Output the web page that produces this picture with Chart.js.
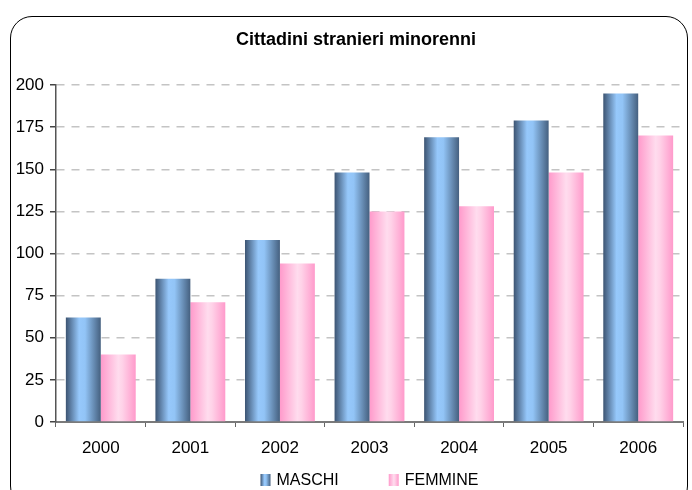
<!DOCTYPE html>
<html>
<head>
<meta charset="utf-8">
<script src="https://cdn.jsdelivr.net/npm/chart.js@4.4.1/dist/chart.umd.min.js"></script>
<style>
  html, body { margin: 0; padding: 0; background: #fff; }
  #wrap { position: relative; width: 692px; height: 490px; overflow: hidden; }
  #frame {
    position: absolute; left: 10px; top: 16px; width: 676px; height: 490px;
    border: 1px solid #000; border-radius: 22px; pointer-events: none;
  }
  canvas { position: absolute; left: 0; top: 0; }
</style>
</head>
<body>
<div id="wrap">
  <div id="frame"></div>
  <canvas id="c" width="692" height="490"></canvas>
</div>
<script>
// ---- data ----
const TITLE = "Cittadini stranieri minorenni";
const YEARS = ["2000", "2001", "2002", "2003", "2004", "2005", "2006"];
const MASCHI = [62, 85, 108, 148, 169, 179, 195];
const FEMMINE = [40, 71, 94, 125, 128, 148, 170];
const Y_TICKS = [0, 25, 50, 75, 100, 125, 150, 175, 200];

const FONT = "'Liberation Sans', Arial, sans-serif";

// colour stops for the cylinder look
const BLUE_STOPS = [[0, "#3c5472"], [0.38, "#96c8fb"], [0.55, "#92c4f6"], [1, "#45607f"]];
const PINK_STOPS = [[0, "#ff9acb"], [0.5, "#ffdcee"], [0.62, "#ffd2e8"], [1, "#ff9acb"]];

function makeGrad(ctx, x0, x1, stops) {
  const g = ctx.createLinearGradient(x0, 0, x1, 0);
  stops.forEach(s => g.addColorStop(s[0], s[1]));
  return g;
}

// per-bar horizontal gradients (options are shared between bars, so copy them)
const barGradients = {
  id: "barGradients",
  beforeDatasetsDraw(chart) {
    const ctx = chart.ctx;
    chart.data.datasets.forEach((ds, i) => {
      chart.getDatasetMeta(i).data.forEach(bar => {
        const x0 = bar.x - bar.width / 2, x1 = bar.x + bar.width / 2;
        bar.options = Object.assign({}, bar.options, { backgroundColor: makeGrad(ctx, x0, x1, ds._stops) });
      });
    });
  }
};

// the title sits a bit right of the canvas centre in the original
const titleShift = {
  id: "titleShift",
  afterLayout(chart) {
    if (!chart.titleBlock) return;
    chart.titleBlock.left += 14.5;
    chart.titleBlock.right += 14.5;
  }
};

// legend under the axis, centred on the plot area, wide gap between items
const LEGEND_Y = 480;
const LEGEND_GAP = 50;
const bottomLegend = {
  id: "bottomLegend",
  afterDraw(chart) {
    const ctx = chart.ctx;
    const area = chart.chartArea;
    ctx.save();
    ctx.font = "16px " + FONT;
    ctx.textBaseline = "middle";
    const boxW = 10, boxH = 12, txtGap = 6;
    const items = chart.data.datasets.map(ds => ({ ds, w: boxW + txtGap + ctx.measureText(ds.label).width }));
    const total = items.reduce((a, it) => a + it.w, 0) + LEGEND_GAP * (items.length - 1);
    let x = (area.left + area.right - total) / 2;
    items.forEach(it => {
      ctx.fillStyle = makeGrad(ctx, x, x + boxW, it.ds._stops);
      ctx.fillRect(x, LEGEND_Y - boxH / 2, boxW, boxH);
      ctx.fillStyle = "#000";
      ctx.fillText(it.ds.label, x + boxW + txtGap, LEGEND_Y + 1);
      x += it.w + LEGEND_GAP;
    });
    ctx.restore();
  }
};

new Chart(document.getElementById("c"), {
  type: "bar",
  data: {
    labels: YEARS,
    datasets: [
      { label: "MASCHI", data: MASCHI, backgroundColor: "#7fa9d6", _stops: BLUE_STOPS },
      { label: "FEMMINE", data: FEMMINE, backgroundColor: "#ffb8db", _stops: PINK_STOPS }
    ]
  },
  options: {
    responsive: false,
    animation: false,
    devicePixelRatio: 1,
    layout: { padding: { left: 0, right: 9, top: 0, bottom: 24 } },
    datasets: { bar: { categoryPercentage: 0.78, barPercentage: 1.0 } },
    scales: {
      x: {
        grid: { offset: true, drawOnChartArea: false, drawTicks: true, tickLength: 5, tickColor: "#666", tickWidth: 1 },
        border: { color: "#7a7a7a", width: 2 },
        ticks: { color: "#000", font: { family: FONT, size: 17 }, padding: 11 },
        afterFit(s) { s.height = 44; }
      },
      y: {
        min: 0, max: 200,
        afterBuildTicks(s) { s.ticks = Y_TICKS.map(v => ({ value: v })); },
        grid: { color: "#c4c4c4", lineWidth: 1.5, tickLength: 6, tickColor: "#444", tickBorderDash: [] },
        border: { color: "#555", width: 1.5, dash: [8, 7] },
        ticks: { color: "#000", font: { family: FONT, size: 17 }, padding: 6 },
        afterFit(s) { s.width = 56; }
      }
    },
    plugins: {
      title: {
        display: true, text: TITLE, color: "#000",
        font: { family: FONT, size: 18, weight: "bold" },
        padding: { top: 29, bottom: 34.4 }
      },
      legend: { display: false },
      tooltip: { enabled: false }
    }
  },
  plugins: [barGradients, titleShift, bottomLegend]
});
</script>
</body>
</html>
